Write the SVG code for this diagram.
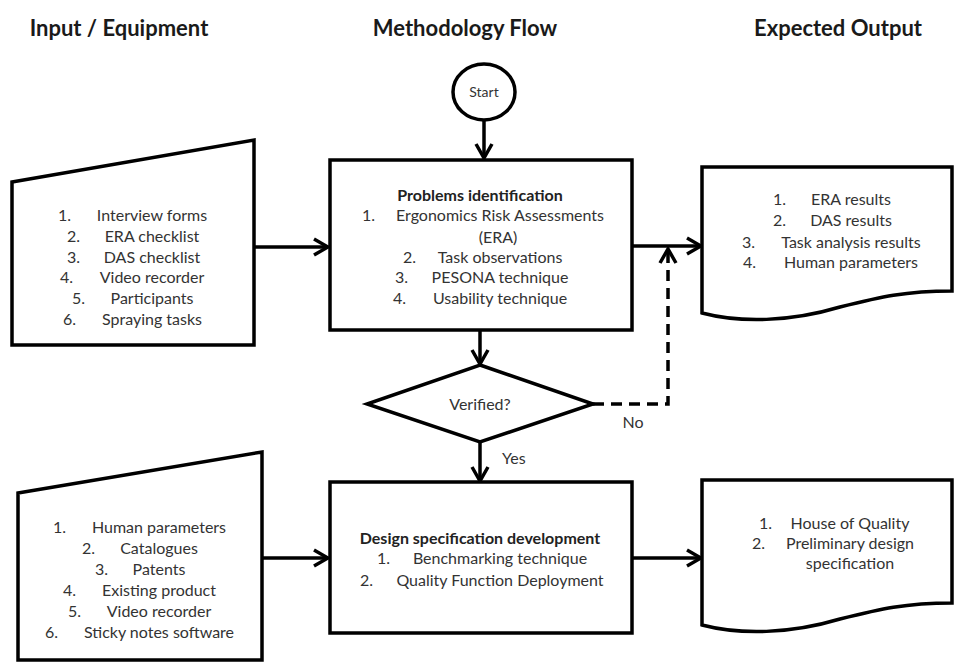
<svg xmlns="http://www.w3.org/2000/svg" width="954" height="662" viewBox="0 0 954 662">
<defs>
<style>
.sh{fill:#fff;stroke:#000;stroke-width:3.5;stroke-linejoin:miter}
.t{font-family:Lato,"Liberation Sans",sans-serif;font-size:16px;fill:#333}
.c{text-anchor:middle}
.b{font-weight:bold;fill:#222}
.h{font-family:Lato,"Liberation Sans",sans-serif;font-size:22px;font-weight:bold;fill:#1a1a1a;text-anchor:middle}
.ln{fill:none;stroke:#000;stroke-width:3.5;marker-end:url(#ah)}
.dl{fill:none;stroke:#000;stroke-width:3.5;stroke-dasharray:11,7;marker-end:url(#ah)}
</style>
<marker id="ah" viewBox="0 0 18 20" refX="16" refY="10" markerWidth="18" markerHeight="20" markerUnits="userSpaceOnUse" orient="auto">
<path d="M2,2 L16,10 L2,18" fill="none" stroke="#000" stroke-width="3.5"/>
</marker>
</defs>
<rect width="954" height="662" fill="#fff"/>
<g id="headings">
<text class="h" x="119" y="36">Input / Equipment</text>
<text class="h" x="465" y="36">Methodology Flow</text>
<text class="h" x="838" y="36">Expected Output</text>
</g>
<g id="connectors">
<path class="ln" d="M484,121 V158"/>
<path class="ln" d="M254,247 H328"/>
<path class="ln" d="M632,246 H701"/>
<path class="ln" d="M480,331 V364"/>
<path class="ln" d="M480,442 V481"/>
<path class="dl" d="M593,404 H668 V249"/>
<path class="ln" d="M262,558 H328"/>
<path class="ln" d="M632,558 H701"/>
</g>
<g id="start">
<ellipse class="sh" cx="484" cy="92" rx="31" ry="28"/>
<text class="t c" x="484" y="97" style="font-size:14px">Start</text>
</g>
<g id="input1">
<polygon class="sh" points="12,182 254,140 254,345 12,345"/>
<text class="t" x="58" y="221">1.</text><text class="t c" x="152" y="221">Interview forms</text>
<text class="t" x="67" y="242">2.</text><text class="t c" x="152" y="242">ERA checklist</text>
<text class="t" x="67" y="263">3.</text><text class="t c" x="152" y="263">DAS checklist</text>
<text class="t" x="60" y="283">4.</text><text class="t c" x="152" y="283">Video recorder</text>
<text class="t" x="72" y="304">5.</text><text class="t c" x="152" y="304">Participants</text>
<text class="t" x="63" y="325">6.</text><text class="t c" x="152" y="325">Spraying tasks</text>
</g>
<g id="problems">
<rect class="sh" x="330" y="160" width="302" height="170"/>
<text class="t c b" x="480" y="201">Problems identification</text>
<text class="t" x="362" y="221">1.</text><text class="t c" x="500" y="221">Ergonomics Risk Assessments</text>
<text class="t c" x="498" y="243">(ERA)</text>
<text class="t" x="403" y="263">2.</text><text class="t c" x="500" y="263">Task observations</text>
<text class="t" x="395" y="283">3.</text><text class="t c" x="500" y="283">PESONA technique</text>
<text class="t" x="393" y="304">4.</text><text class="t c" x="500" y="304">Usability technique</text>
</g>
<g id="output1">
<path class="sh" d="M702,167 H952 V291 C905,291 880,297 840,307 C790,322 740,323 702,313 Z"/>
<text class="t" x="773" y="205">1.</text><text class="t c" x="851" y="205">ERA results</text>
<text class="t" x="773" y="226">2.</text><text class="t c" x="851" y="226">DAS results</text>
<text class="t" x="742" y="248">3.</text><text class="t c" x="851" y="248">Task analysis results</text>
<text class="t" x="743" y="268">4.</text><text class="t c" x="851" y="268">Human parameters</text>
</g>
<g id="verified">
<polygon class="sh" points="480,365 593,404 480,442 367,404"/>
<text class="t c" x="480" y="410">Verified?</text>
<text class="t c" x="633" y="428">No</text>
<text class="t" x="502" y="464">Yes</text>
</g>
<g id="input2">
<polygon class="sh" points="18,493 262,452 262,660 18,660"/>
<text class="t" x="53" y="533">1.</text><text class="t c" x="159" y="533">Human parameters</text>
<text class="t" x="82" y="554">2.</text><text class="t c" x="159" y="554">Catalogues</text>
<text class="t" x="95" y="575">3.</text><text class="t c" x="159" y="575">Patents</text>
<text class="t" x="63" y="596">4.</text><text class="t c" x="159" y="596">Existing product</text>
<text class="t" x="68" y="617">5.</text><text class="t c" x="159" y="617">Video recorder</text>
<text class="t" x="45" y="638">6.</text><text class="t c" x="159" y="638">Sticky notes software</text>
</g>
<g id="design">
<rect class="sh" x="330" y="482" width="302" height="151"/>
<text class="t c b" x="480" y="544">Design specification development</text>
<text class="t" x="377" y="564">1.</text><text class="t c" x="500" y="564">Benchmarking technique</text>
<text class="t" x="360" y="586">2.</text><text class="t c" x="500" y="586">Quality Function Deployment</text>
</g>
<g id="output2">
<path class="sh" d="M702,480 H952 V603 C905,603 880,609 840,619 C790,634 740,635 702,625 Z"/>
<text class="t" x="759" y="529">1.</text><text class="t c" x="850" y="529">House of Quality</text>
<text class="t" x="752" y="549">2.</text><text class="t c" x="850" y="549">Preliminary design</text>
<text class="t c" x="850" y="569">specification</text>
</g>
</svg>
